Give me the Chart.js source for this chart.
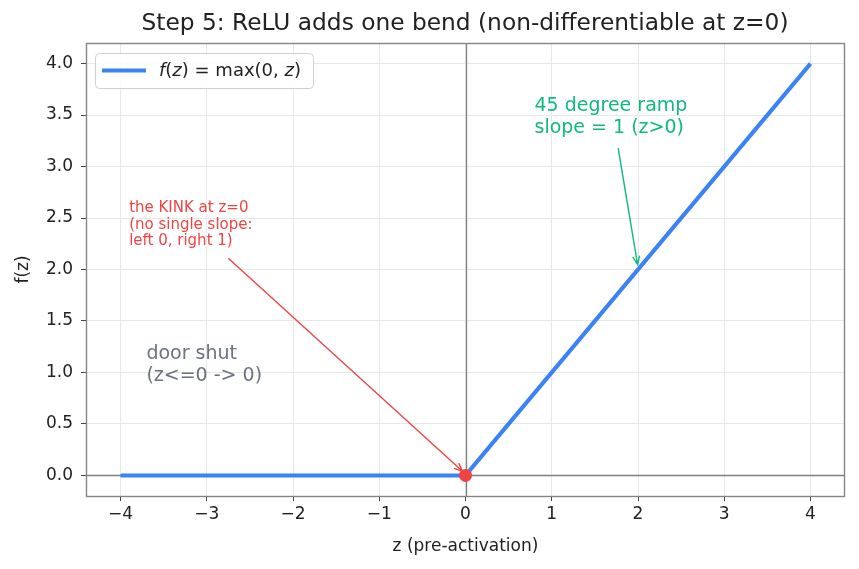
<!DOCTYPE html>
<html>
<head>
<meta charset="utf-8">
<script src="https://cdn.jsdelivr.net/npm/chart.js@4.4.1/dist/chart.umd.min.js"></script>
<style>
    html, body { margin: 0; padding: 0; background: #ffffff; }
    #wrap { width: 859px; height: 569px; }
</style>
</head>
<body>
<div id="wrap"><canvas id="reluChart" width="859" height="569"></canvas></div>
<script>
// data
const zValues = [-4, 0, 4];
const reluValues = [0, 0, 4];
const kinkZ = [0];
const kinkF = [0];
const xTicks = [-4, -3, -2, -1, 0, 1, 2, 3, 4];
const yTicks = [0, 0.5, 1, 1.5, 2, 2.5, 3, 3.5, 4];

const FONT = "'DejaVu Sans', sans-serif";
const BLUE = '#3b82f6';
const RED = '#ef4444';
const GREEN = '#10b981';
const GREY_TEXT = '#6b7280';

// arrow: text anchor, arrow start, arrow end (all data coords)
const notes = [
    { lines: ['the KINK at z=0', '(no single slope:', 'left 0, right 1)'], x: -3.9, y: 2.2, size: 15, lh: 16.5, color: RED,
      from: [-2.75, 2.11], to: [-0.035, 0.04] },
    { lines: ['45 degree ramp', 'slope = 1 (z>0)'], x: 0.8, y: 3.28, size: 19, lh: 22, color: GREEN,
      from: [1.77, 3.18], to: [1.995, 2.05] },
    { lines: ['door shut', '(z<=0 -> 0)'], x: -3.7, y: 0.87, size: 19, lh: 22, color: GREY_TEXT }
];

function drawArrow(ctx, x1, y1, x2, y2, color) {
    const ang = Math.atan2(y2 - y1, x2 - x1);
    const head = 9;
    ctx.save();
    ctx.strokeStyle = color;
    ctx.lineWidth = 1.4;
    ctx.beginPath();
    ctx.moveTo(x1, y1);
    ctx.lineTo(x2, y2);
    ctx.moveTo(x2 - head * Math.cos(ang - 0.4), y2 - head * Math.sin(ang - 0.4));
    ctx.lineTo(x2, y2);
    ctx.lineTo(x2 - head * Math.cos(ang + 0.4), y2 - head * Math.sin(ang + 0.4));
    ctx.stroke();
    ctx.restore();
}

const decorPlugin = {
    id: 'decor',
    beforeDatasetsDraw(chart) {
        const { ctx, chartArea: a, scales: { x, y } } = chart;
        ctx.save();
        ctx.strokeStyle = '#808080';
        ctx.lineWidth = 1.3;
        ctx.beginPath();
        const x0 = Math.round(x.getPixelForValue(0)) + 0.5;
        const y0 = Math.round(y.getPixelForValue(0)) + 0.5;
        ctx.moveTo(x0, a.top);
        ctx.lineTo(x0, a.bottom);
        ctx.moveTo(a.left, y0);
        ctx.lineTo(a.right, y0);
        ctx.stroke();
        ctx.restore();
    },
    afterDatasetsDraw(chart) {
        const { ctx, scales: { x, y } } = chart;
        notes.forEach(n => {
            if (n.from) {
                drawArrow(ctx, x.getPixelForValue(n.from[0]), y.getPixelForValue(n.from[1]),
                    x.getPixelForValue(n.to[0]), y.getPixelForValue(n.to[1]), n.color);
            }
            ctx.save();
            ctx.fillStyle = n.color;
            ctx.font = n.size + 'px ' + FONT;
            ctx.textAlign = 'left';
            ctx.textBaseline = 'bottom';
            const px = x.getPixelForValue(n.x);
            const py = y.getPixelForValue(n.y);
            const last = n.lines.length - 1;
            n.lines.forEach((t, i) => {
                ctx.fillText(t, px, py - (last - i) * n.lh);
            });
            ctx.restore();
        });
    },
    afterDraw(chart) {
        const { ctx, chartArea: a } = chart;
        ctx.save();
        // frame
        ctx.strokeStyle = '#858585';
        ctx.lineWidth = 1.4;
        ctx.strokeRect(a.left + 0.5, a.top + 0.5, a.right - a.left - 1, a.bottom - a.top);
        // title
        ctx.fillStyle = '#222222';
        ctx.font = '23.3px ' + FONT;
        ctx.textAlign = 'center';
        ctx.textBaseline = 'middle';
        ctx.fillText('Step 5: ReLU adds one bend (non-differentiable at z=0)', (a.left + a.right) / 2 - 0.5, 24);
        // legend box
        const bx = a.left + 9, by = a.top + 10, bw = 218, bh = 35;
        ctx.fillStyle = 'rgba(255,255,255,0.85)';
        ctx.strokeStyle = '#d0d0d0';
        ctx.lineWidth = 1;
        ctx.beginPath();
        ctx.roundRect(bx + 0.5, by + 0.5, bw, bh, 4);
        ctx.fill();
        ctx.stroke();
        ctx.strokeStyle = BLUE;
        ctx.lineWidth = 4;
        ctx.beginPath();
        ctx.moveTo(bx + 7, by + 17.5);
        ctx.lineTo(bx + 51, by + 17.5);
        ctx.stroke();
        // f(z) = max(0, z) with italic f and z
        ctx.fillStyle = '#222222';
        ctx.textAlign = 'left';
        ctx.textBaseline = 'middle';
        let tx = bx + 64;
        const ty = by + 18;
        const parts = [['f', true], ['(', false], ['z', true], [') = max(0, ', false], ['z', true], [')', false]];
        parts.forEach(([t, it]) => {
            ctx.font = (it ? 'italic ' : '') + '18px ' + FONT;
            ctx.fillText(t, tx, ty);
            tx += ctx.measureText(t).width;
        });
        ctx.restore();
    }
};

const ctx = document.getElementById('reluChart').getContext('2d');
const reluChart = new Chart(ctx, {
    type: 'line',
    data: {
        datasets: [{
            label: 'f(z) = max(0, z)',
            data: zValues.map((z, i) => ({ x: z, y: reluValues[i] })),
            borderColor: BLUE,
            borderWidth: 4,
            borderCapStyle: 'butt',
            pointRadius: 0,
            fill: false,
            tension: 0,
            order: 2
        }, {
            label: 'kink',
            type: 'scatter',
            data: kinkZ.map((z, i) => ({ x: z, y: kinkF[i] })),
            backgroundColor: RED,
            borderColor: RED,
            pointRadius: 6.5,
            pointBorderWidth: 0,
            order: 1
        }]
    },
    options: {
        responsive: false,
        animation: false,
        layout: { padding: { left: 0, right: 14, top: 43, bottom: 0 } },
        plugins: {
            legend: { display: false },
            tooltip: { enabled: false }
        },
        scales: {
            x: {
                type: 'linear',
                min: -4.4,
                max: 4.4,
                afterBuildTicks: s => { s.ticks = xTicks.map(v => ({ value: v })); },
                afterFit: s => { s.height = 73; },
                ticks: {
                    callback: v => String(v).replace('-', '\u2212'),
                    font: { size: 17, family: FONT },
                    color: '#222222',
                    padding: 3,
                    maxRotation: 0
                },
                grid: { color: '#e8e8e8', tickColor: '#444444', tickLength: 5, lineWidth: 1 },
                border: { display: false },
                title: {
                    display: true,
                    text: 'z (pre-activation)',
                    font: { size: 17, family: FONT },
                    color: '#222222',
                    padding: { top: 0, bottom: 12 }
                }
            },
            y: {
                type: 'linear',
                min: -0.2,
                max: 4.2,
                afterBuildTicks: s => { s.ticks = yTicks.map(v => ({ value: v })); },
                afterFit: s => { s.width = 86; },
                ticks: {
                    callback: v => v.toFixed(1),
                    font: { size: 17, family: FONT },
                    color: '#222222',
                    padding: 8
                },
                grid: { color: '#e8e8e8', tickColor: '#444444', tickLength: 5, lineWidth: 1 },
                border: { display: false },
                title: {
                    display: true,
                    text: 'f(z)',
                    font: { size: 17, family: FONT },
                    color: '#222222',
                    padding: { top: 13, bottom: 0 }
                }
            }
        }
    },
    plugins: [decorPlugin]
});
</script>
</body>
</html>
